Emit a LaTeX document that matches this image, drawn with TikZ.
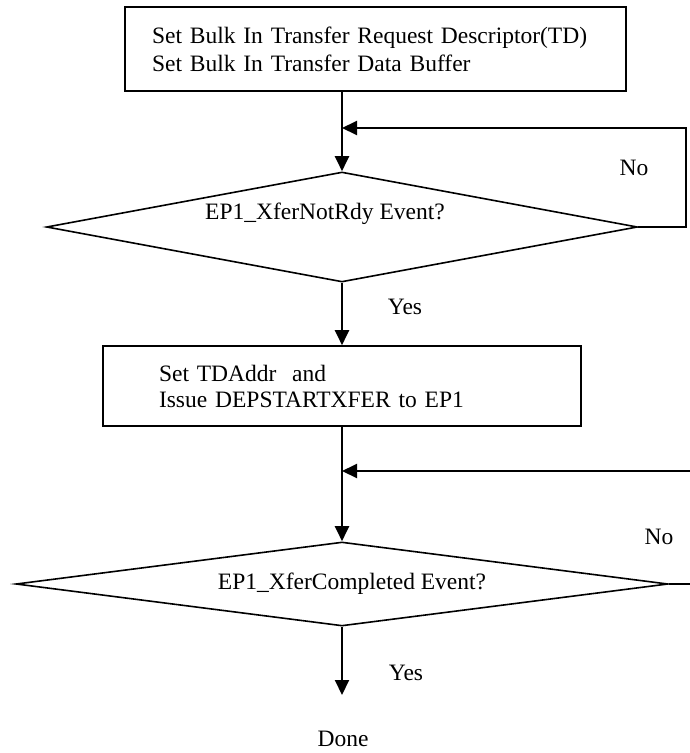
\documentclass[tikz,border=0pt]{standalone}
\usepackage{fontspec}
\setmainfont{Liberation Serif}
\usetikzlibrary{arrows.meta,shapes.geometric}
\begin{document}
\begin{tikzpicture}[x=1pt,y=-1pt,
  every node/.style={font=\fontsize{23.5}{28}\selectfont},
  procbox/.style={draw,line width=1.6pt,rectangle,align=left,inner ysep=0pt},
  decision/.style={draw,line width=1.6pt,diamond,inner sep=0pt},
  flow/.style={line width=2pt,-{Triangle[width=14pt,length=15pt]}},
  plain/.style={line width=2pt},
  lbl/.style={inner sep=0pt}]
  \useasboundingbox (0,0) rectangle (690,753);

  % process boxes
  \node[procbox,minimum width=501pt,minimum height=84pt,inner xsep=27pt,text width=447pt]
    (box1) at (375.5,49) {Set Bulk In Transfer Request Descriptor(TD)\\Set Bulk In Transfer Data Buffer};
  \node[procbox,minimum width=478pt,minimum height=80pt,inner xsep=56pt,text width=366pt,
    font=\fontsize{23.5}{26}\selectfont]
    (box2) at (342,386) {Set TDAddr\ \ and\\Issue DEPSTARTXFER to EP1};

  % decisions
  \node[decision,minimum width=591pt,minimum height=110pt] (d1) at (342,227) {};
  \node[lbl] (t1) at (325,214) {EP1\_XferNotRdy Event?};
  \node[decision,minimum width=652pt,minimum height=84pt] (d2) at (342,584) {};
  \node[lbl] (t2) at (352,584) {EP1\_XferCompleted Event?};

  % end label
  \node[lbl] (done) at (343,739) {Done};

  % loop and junction points
  \coordinate (j1) at (342,128);
  \coordinate (r1) at (686,128);
  \coordinate (j2) at (342,471);
  \coordinate (r2) at (690,471);
  \coordinate (e2) at (690,584);
  \coordinate (tip) at (342,695);

  % main flow
  \draw[flow] (box1.south -| d1.north) -- (d1.north);
  \draw[flow] (d1.south) -- (box2.north);
  \draw[flow] (box2.south) -- (d2.north);
  \draw[flow] (d2.south) -- (tip);

  % "No" loops
  \draw[flow] (d1.east) -| (r1) -- (j1);
  \draw[plain] (d2.east) -- (e2);
  \draw[flow] (r2) -- (j2);

  % branch labels
  \node[lbl] (no1) at (634,168) {No};
  \node[lbl] (yes1) at (405,307) {Yes};
  \node[lbl] (no2) at (659,537) {No};
  \node[lbl] (yes2) at (406,673) {Yes};
\end{tikzpicture}
\end{document}
